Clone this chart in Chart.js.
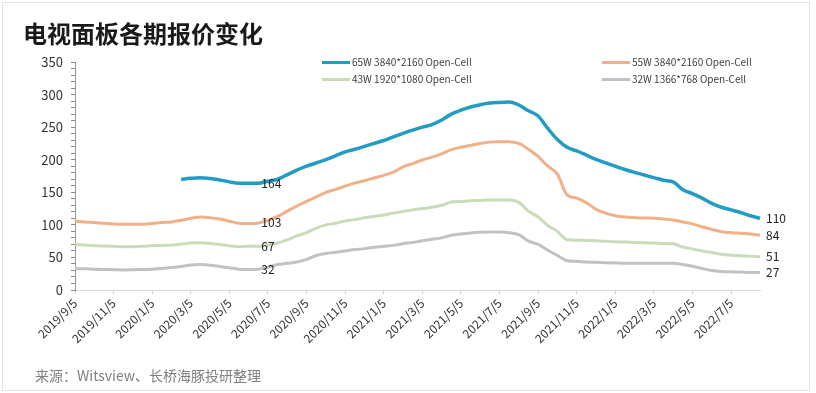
<!DOCTYPE html>
<html>
<head>
<meta charset="utf-8">
<script src="https://cdn.jsdelivr.net/npm/chart.js@4"></script>
<style>
  html, body { margin:0; padding:0; background:#fff; }
  #wrap { position:relative; width:816px; height:393px; overflow:hidden; font-family:"Noto Sans CJK SC","Noto Sans",sans-serif; }
  #frame { position:absolute; left:2px; top:2px; width:806px; height:387px; border:1px solid #e4e4e4; pointer-events:none; }
  #title { position:absolute; left:23px; top:21px; font-size:24px; line-height:24px; font-weight:bold; color:#1a1a1a; white-space:nowrap; }
  #source { position:absolute; left:35px; top:367px; font-size:14px; line-height:16px; color:#7f7f7f; white-space:nowrap; }
  .lg { position:absolute; font-size:10px; line-height:12px; color:#404040; white-space:nowrap; }
  .lg i { position:absolute; left:0; top:5px; width:28px; height:3px; }
  .lg span { position:absolute; left:30px; top:0; }
  canvas { position:absolute; left:0; top:0; }
</style>
</head>
<body>
<div id="wrap">
  <canvas id="c" width="816" height="393"></canvas>
  <div id="title">电视面板各期报价变化</div>
  <div id="source">来源：Witsview、长桥海豚投研整理</div>
  <div id="frame"></div>
</div>
<script>
const categories = [
  "2019/9/5","2019/9/20","2019/10/5","2019/10/20","2019/11/5","2019/11/20","2019/12/5","2019/12/20",
  "2020/1/5","2020/1/20","2020/2/5","2020/2/20","2020/3/5","2020/3/20","2020/4/5","2020/4/20",
  "2020/5/5","2020/5/20","2020/6/5","2020/6/20","2020/7/5","2020/7/20","2020/8/5","2020/8/20",
  "2020/9/5","2020/9/20","2020/10/5","2020/10/20","2020/11/5","2020/11/20","2020/12/5","2020/12/20",
  "2021/1/5","2021/1/20","2021/2/5","2021/2/20","2021/3/5","2021/3/20","2021/4/5","2021/4/20",
  "2021/5/5","2021/5/20","2021/6/5","2021/6/20","2021/7/5","2021/7/20","2021/8/5","2021/8/20",
  "2021/9/5","2021/9/20","2021/10/5","2021/10/20","2021/11/5","2021/11/20","2021/12/5","2021/12/20",
  "2022/1/5","2022/1/20","2022/2/5","2022/2/20","2022/3/5","2022/3/20","2022/4/5","2022/4/20",
  "2022/5/5","2022/5/20","2022/6/5","2022/6/20","2022/7/5","2022/7/20","2022/8/5","2022/8/20"
];
const tickLabels = [
  "2019/9/5","2019/11/5","2020/1/5","2020/3/5","2020/5/5","2020/7/5","2020/9/5","2020/11/5",
  "2021/1/5","2021/3/5","2021/5/5","2021/7/5","2021/9/5","2021/11/5","2022/1/5","2022/3/5",
  "2022/5/5","2022/7/5"
];
const yTickLabels = [0, 50, 100, 150, 200, 250, 300, 350];

const seriesNames = ["65W 3840*2160 Open-Cell","55W 3840*2160 Open-Cell","43W 1920*1080 Open-Cell","32W 1366*768 Open-Cell"];

const s65 = [null,null,null,null,null,null,null,null,null,null,null,
  170,171.5,172.4,171,169,166,164,164,164,167,170,177,184,
  190,195,200,206,212,216,220.5,225,229.5,235,240.5,245.5,
  250,254,261,270,276,281,284.5,287,288,288.5,284,275,
  267,248,231,219,213.5,207,200.5,195,190,185,180.5,176.5,
  172.5,168.5,166,154,148,141,133,127,123,119,114,110];
const s55 = [106,104.5,103.5,102.3,101.5,101,100.8,101,102,103.5,104.5,107,
  110,112,111,109,105.5,102.5,102,103,107,113,121,129,
  136,143,150,154.5,159.5,164,167.8,172,176,181,189,194,
  199.5,204,209,215.5,219,222,225,227,227.5,227.7,225,216,
  205,190,178,146,141,134,124,118,114,112,111,110.5,
  110,109,107.5,104.5,101.5,97,93,89.5,88,87,86,84];
const s43 = [70,69,68,67.5,67,66.5,66.5,67,68,68.5,69,70.5,
  72,72.5,71.5,70,68,66.5,67,67,69,72,77,83,
  88,95,100,102.5,106,108,111,113,115,118,120.5,123,
  125,127,130,135,136,137,137.5,138,138,138,134.5,121,
  112,99,90,77,76.5,76,75.5,75,74,73.5,73,72.5,
  72,71.5,71,66,63,60,57.5,55,53.5,52.5,52,51];
const s32 = [33,32.5,32,31.5,31,30.7,31,31.5,32,33,34.5,36,
  38.5,39,38,36,34,32,31.5,32,35,39,41,43,
  47,53,56,58,60,62,63.5,65.5,67,68.5,71,73,
  75.5,78,80,84,86,87.5,88.5,89,89,88,85,75,
  70,61,53,45,44,43,42.5,42,41.5,41,41,41,
  41,41,41,39,36.5,33,30,28.5,28,27.5,27,27];

const labelAt = [19, 71];
const labelText = [["164","110"],["103","84"],["67","51"],["32","27"]];

const colors = ["#229cc3","#f0b088","#c8dcba","#c2c2c2"];
const widths = [3.5,3,3,3];
const seriesData = [s65, s55, s43, s32];

// HTML legend (two columns)
const legendPos = [[322,56],[602,56],[322,73],[602,73]];
const wrap = document.getElementById('wrap');
seriesNames.forEach((n, i) => {
  const d = document.createElement('div');
  d.className = 'lg';
  d.style.left = legendPos[i][0] + 'px';
  d.style.top = legendPos[i][1] + 'px';
  d.innerHTML = '<i style="background:' + colors[i] + '"></i><span>' + n + '</span>';
  wrap.appendChild(d);
});

const dataLabelPlugin = {
  id: 'dataLabels',
  afterDatasetsDraw(chart) {
    const ctx = chart.ctx;
    ctx.save();
    ctx.font = '12px "Noto Sans CJK SC", "Noto Sans", sans-serif';
    ctx.fillStyle = '#222';
    ctx.textAlign = 'left';
    ctx.textBaseline = 'middle';
    chart.data.datasets.forEach((ds, di) => {
      const meta = chart.getDatasetMeta(di);
      labelAt.forEach((idx, k) => {
        const p = meta.data[idx];
        if (!p) return;
        ctx.fillText(labelText[di][k], p.x + (k === 0 ? 3 : 6), p.y);
      });
    });
    ctx.restore();
  }
};

new Chart(document.getElementById('c'), {
  type: 'line',
  data: {
    labels: categories,
    datasets: seriesData.map((d, i) => ({
      label: seriesNames[i],
      data: d,
      borderColor: colors[i],
      backgroundColor: colors[i],
      borderWidth: widths[i],
      pointRadius: 0,
      tension: 0.35,
      cubicInterpolationMode: 'monotone',
      spanGaps: false,
      order: i
    }))
  },
  options: {
    responsive: false,
    animation: false,
    layout: { padding: { left: 0, top: 62, right: 56, bottom: 0 } },
    plugins: { legend: { display: false }, tooltip: { enabled: false } },
    scales: {
      x: {
        type: 'category',
        offset: false,
        afterFit(scale) { scale.height = 103; },
        grid: { display: true, drawOnChartArea: false, drawTicks: true, tickLength: 4, color: '#cfcfcf' },
        border: { display: true, color: '#d9d9d9', width: 1 },
        ticks: {
          autoSkip: false,
          minRotation: 45,
          maxRotation: 45,
          padding: 2,
          color: '#333',
          font: { size: 12, family: '"Noto Sans CJK SC","Noto Sans",sans-serif' },
          callback(v, i) {
            const lab = categories[i];
            return tickLabels.includes(lab) ? lab : null;
          }
        }
      },
      y: {
        min: 0,
        max: 350,
        afterFit(scale) { scale.width = 75; },
        grid: { display: true, drawOnChartArea: false, drawTicks: true, tickLength: 4, color: '#888' },
        border: { display: true, color: '#999', width: 1 },
        ticks: {
          stepSize: 10,
          autoSkip: false,
          padding: 8,
          color: '#333',
          font: { size: 13, family: '"Noto Sans CJK SC","Noto Sans",sans-serif' },
          callback(v) { return yTickLabels.includes(v) ? String(v) : ''; }
        }
      }
    }
  },
  plugins: [dataLabelPlugin]
});
</script>
</body>
</html>
